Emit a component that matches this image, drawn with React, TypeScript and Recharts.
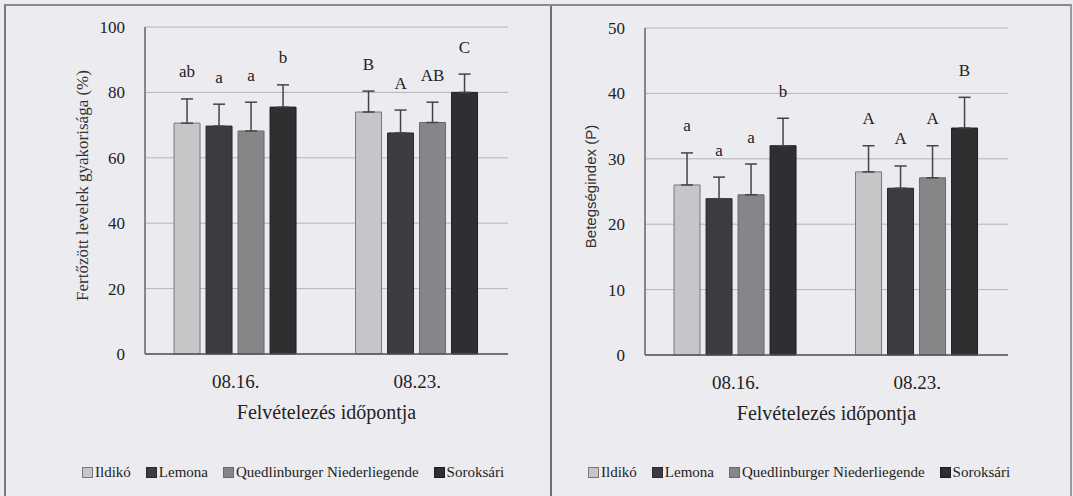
import React from 'react'
import { BarChart, Bar, XAxis, YAxis, CartesianGrid, ErrorBar, LabelList, Label } from 'recharts'

const categories = ['08.16.', '08.23.']
const varieties = ['Ildikó', 'Lemona', 'Quedlinburger Niederliegende', 'Soroksári']
const COLORS = ['#c6c5c8', '#3d3b3f', '#868588', '#2f2e31']
const STROKES = ['#77767a', '#2a292c', '#6a696c', '#1f1e20']

// left: frequency of infected leaves (%), one array per variety, [08.16., 08.23.]
const freqMean = [
  [70.6, 74.0],
  [69.7, 67.6],
  [68.2, 70.8],
  [75.5, 80.0],
]
const freqErr = [
  [7.4, 6.4],
  [6.7, 7.0],
  [8.8, 6.2],
  [6.8, 5.6],
]
const freqLetters = [
  ['ab', 'B'],
  ['a', 'A'],
  ['a', 'AB'],
  ['b', 'C'],
]

// right: disease index (P)
const indexMean = [
  [26.0, 28.0],
  [23.9, 25.5],
  [24.5, 27.1],
  [32.0, 34.7],
]
const indexErr = [
  [4.9, 4.0],
  [3.3, 3.4],
  [4.7, 4.9],
  [4.2, 4.7],
]
const indexLetters = [
  ['a', 'A'],
  ['a', 'A'],
  ['a', 'A'],
  ['b', 'B'],
]

const SERIF = "'Liberation Serif', Tinos, 'DejaVu Serif', 'Times New Roman', serif"
const SANS = "'Liberation Sans', Arial, sans-serif"

function buildRows(mean: number[][], err: number[][], letters: string[][]) {
  return categories.map((date, ci) => {
    const row: any = { date }
    varieties.forEach((_, vi) => {
      row['v' + vi] = mean[vi][ci]
      row['e' + vi] = [0, err[vi][ci]]
      row['l' + vi] = letters[vi][ci]
    })
    return row
  })
}

const letterContent = (rows: any[], vi: number) => (props: any) => {
  const { x, y, width, height, index, value } = props
  const row = rows[index]
  const mean = row['v' + vi]
  const err = row['e' + vi][1]
  const capY = y - (err * height) / mean
  return (
    <text
      x={x + width / 2}
      y={capY - 27}
      textAnchor="middle"
      dominantBaseline="central"
      style={{ fontFamily: SERIF }}
      fontSize={17}
      fill="#222"
    >
      {value}
    </text>
  )
}

function Panel({
  rows, width, yWidth, marginTop, marginRight, domain, ticks, yTitle, yTitleX, yTitleFont, yTitleSize,
}: any) {
  const xTitle = (p: any) => {
    const vb = p.viewBox
    return (
      <text x={vb.x + vb.width / 2} y={vb.y + 58} textAnchor="middle" dominantBaseline="central"
        style={{ fontFamily: SERIF }} fontSize={20} fill="#222">
        Felvételezés időpontja
      </text>
    )
  }
  const yLabel = (p: any) => {
    const vb = p.viewBox
    const cx = yTitleX
    const cy = vb.y + vb.height / 2 - 5
    return (
      <text x={cx} y={cy} transform={`rotate(-90, ${cx}, ${cy})`} textAnchor="middle"
        dominantBaseline="central" style={{ fontFamily: yTitleFont }} fontSize={yTitleSize} fill="#333">
        {yTitle}
      </text>
    )
  }
  return (
    <BarChart
      width={width}
      height={496}
      data={rows}
      margin={{ top: marginTop, right: marginRight, left: 0, bottom: 496 - 354 - 80 - (marginTop - 27) }}
      barCategoryGap="16%"
      barGap={6}
      style={{ fontFamily: SERIF }}
    >
      <CartesianGrid vertical={false} stroke="#b4b3b7" strokeWidth={1} />
      <XAxis
        dataKey="date"
        height={80}
        axisLine={{ stroke: '#555', strokeWidth: 1.5 }}
        tickLine={false}
        tickMargin={15}
        tick={{ fontSize: 19, fill: '#222', style: { fontFamily: SERIF } }}
      >
        <Label content={xTitle} />
      </XAxis>
      <YAxis
        width={yWidth}
        domain={domain}
        ticks={ticks}
        interval={0}
        axisLine={{ stroke: '#666', strokeWidth: 1.5 }}
        tickLine={false}
        tickMargin={14}
        tick={{ fontSize: 17, fill: '#222', style: { fontFamily: SERIF } }}
      >
        <Label content={yLabel} />
      </YAxis>
      {varieties.map((name, vi) => (
        <Bar key={name} dataKey={'v' + vi} name={name} fill={COLORS[vi]} stroke={STROKES[vi]}
          strokeWidth={1} isAnimationActive={false}>
          <ErrorBar dataKey={'e' + vi} width={6} stroke="#444" strokeWidth={1.5} direction="y"
            isAnimationActive={false} />
          <LabelList dataKey={'l' + vi} content={letterContent(rows, vi)} />
        </Bar>
      ))}
    </BarChart>
  )
}

function LegendRow({ left }: { left: number }) {
  return (
    <div style={{ position: 'absolute', left, top: 464, display: 'flex', gap: 15, alignItems: 'center',
      fontFamily: SERIF, fontSize: 15, color: '#222', whiteSpace: 'nowrap' }}>
      {varieties.map((name, vi) => (
        <div key={name} style={{ display: 'flex', alignItems: 'center' }}>
          <span style={{ display: 'inline-block', width: 9, height: 9, background: COLORS[vi],
            border: `1px solid ${STROKES[vi]}`, marginRight: 2 }} />
          <span>{name}</span>
        </div>
      ))}
    </div>
  )
}

export default function App() {
  const freqRows = buildRows(freqMean, freqErr, freqLetters)
  const indexRows = buildRows(indexMean, indexErr, indexLetters)
  return (
    <div style={{ position: 'absolute', left: 0, top: 0, width: 1073, height: 496, background: '#ececf0',
      overflow: 'hidden', fontFamily: SERIF }}>
      <div style={{ position: 'absolute', left: 4, top: 4, width: 544, height: 500,
        borderLeft: '2px solid #78777b', borderTop: '2px solid #8a898d', borderRight: '2px solid #6e6d71' }} />
      <div style={{ position: 'absolute', left: 548, top: 4, width: 522, height: 500,
        borderTop: '2px solid #8a898d', borderRight: '2px solid #9a999d' }} />
      <div style={{ position: 'absolute', left: 0, top: 0 }}>
        <Panel rows={freqRows} width={548} yWidth={145} marginTop={27} marginRight={40}
          domain={[0, 100]} ticks={[0, 20, 40, 60, 80, 100]}
          yTitle="Fertőzött levelek gyakorisága (%)" yTitleX={82} yTitleFont={SERIF} yTitleSize={17} />
      </div>
      <div style={{ position: 'absolute', left: 548, top: 0 }}>
        <Panel rows={indexRows} width={525} yWidth={97} marginTop={28} marginRight={65}
          domain={[0, 50]} ticks={[0, 10, 20, 30, 40, 50]}
          yTitle="Betegségindex (P)" yTitleX={42} yTitleFont={SANS} yTitleSize={15} />
      </div>
      <LegendRow left={82} />
      <LegendRow left={588} />
    </div>
  )
}
